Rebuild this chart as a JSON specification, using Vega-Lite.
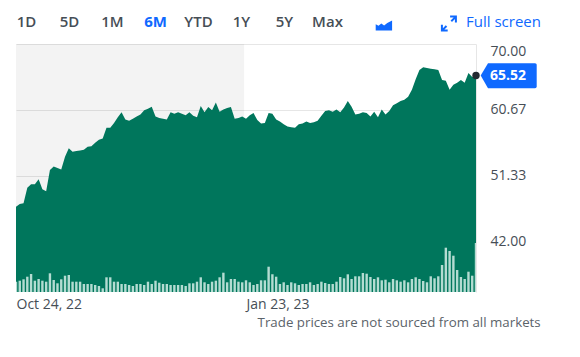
{
  "$schema": "https://vega.github.io/schema/vega-lite/v6.json",
  "padding": {"left": 16, "top": 0, "right": 0, "bottom": 0},
  "background": "white",
  "config": {"view": {"stroke": null}, "font": "Open Sans"},
  "spacing": 0,
  "bounds": "flush",
  "datasets": {
    "prices": [
      {"i":0,"close":46.9,"vol":1.03},{"i":1,"close":47.3,"vol":1.13},{"i":2,"close":47.4,"vol":1.27},{"i":3,"close":49.6,"vol":1.53},{"i":4,"close":50.1,"vol":1.8},{"i":5,"close":50.1,"vol":1.13},{"i":6,"close":50.8,"vol":1.3},{"i":7,"close":49.4,"vol":1.13},{"i":8,"close":49.1,"vol":1.03},{"i":9,"close":52.1,"vol":1.87},
      {"i":10,"close":52.6,"vol":1.2},{"i":11,"close":52.4,"vol":0.87},{"i":12,"close":52.2,"vol":1.27},{"i":13,"close":54.0,"vol":1.63},{"i":14,"close":55.2,"vol":1.7},{"i":15,"close":54.7,"vol":1.03},{"i":16,"close":54.8,"vol":1.03},{"i":17,"close":54.9,"vol":1.03},{"i":18,"close":55.0,"vol":0.8},{"i":19,"close":55.4,"vol":0.8},
      {"i":20,"close":55.5,"vol":0.8},{"i":21,"close":56.0,"vol":0.7},{"i":22,"close":56.4,"vol":0.6},{"i":23,"close":56.6,"vol":0.37},{"i":24,"close":58.1,"vol":1.47},{"i":25,"close":58.1,"vol":1.47},{"i":26,"close":58.8,"vol":1.03},{"i":27,"close":59.6,"vol":1.03},{"i":28,"close":60.3,"vol":0.8},{"i":29,"close":59.3,"vol":0.8},
      {"i":30,"close":59.1,"vol":0.7},{"i":31,"close":59.4,"vol":0.6},{"i":32,"close":59.7,"vol":0.8},{"i":33,"close":60.0,"vol":0.8},{"i":34,"close":60.6,"vol":0.7},{"i":35,"close":60.8,"vol":1.03},{"i":36,"close":61.1,"vol":0.8},{"i":37,"close":59.7,"vol":1.13},{"i":38,"close":59.5,"vol":0.93},{"i":39,"close":59.4,"vol":0.8},
      {"i":40,"close":59.3,"vol":0.8},{"i":41,"close":60.3,"vol":0.7},{"i":42,"close":60.1,"vol":0.7},{"i":43,"close":60.3,"vol":0.7},{"i":44,"close":60.1,"vol":0.7},{"i":45,"close":59.9,"vol":0.6},{"i":46,"close":60.3,"vol":0.87},{"i":47,"close":59.8,"vol":0.87},{"i":48,"close":59.6,"vol":1.03},{"i":49,"close":61.2,"vol":1.47},
      {"i":50,"close":60.3,"vol":0.97},{"i":51,"close":61.05,"vol":0.8},{"i":52,"close":60.6,"vol":1.03},{"i":53,"close":61.7,"vol":1.13},{"i":54,"close":60.4,"vol":1.47},{"i":55,"close":60.7,"vol":1.93},{"i":56,"close":60.9,"vol":0.97},{"i":57,"close":61.05,"vol":1.3},{"i":58,"close":59.4,"vol":1.3},{"i":59,"close":59.5,"vol":1.03},
      {"i":60,"close":59.7,"vol":0.97},{"i":61,"close":59.4,"vol":1.17},{"i":62,"close":59.9,"vol":0.97},{"i":63,"close":60.2,"vol":0.7},{"i":64,"close":59.2,"vol":0.8},{"i":65,"close":58.7,"vol":1.17},{"i":66,"close":58.8,"vol":1.17},{"i":67,"close":60.2,"vol":2.53},{"i":68,"close":60.1,"vol":1.77},{"i":69,"close":59.3,"vol":1.53},
      {"i":70,"close":59.0,"vol":0.8},{"i":71,"close":58.6,"vol":0.97},{"i":72,"close":58.3,"vol":0.7},{"i":73,"close":58.2,"vol":0.97},{"i":74,"close":58.1,"vol":0.87},{"i":75,"close":58.6,"vol":0.7},{"i":76,"close":58.7,"vol":0.8},{"i":77,"close":59.0,"vol":0.8},{"i":78,"close":58.8,"vol":0.97},{"i":79,"close":58.9,"vol":0.7},
      {"i":80,"close":59.1,"vol":0.8},{"i":81,"close":59.8,"vol":1.03},{"i":82,"close":60.5,"vol":0.9},{"i":83,"close":60.6,"vol":0.8},{"i":84,"close":60.4,"vol":0.8},{"i":85,"close":60.7,"vol":1.03},{"i":86,"close":60.3,"vol":1.5},{"i":87,"close":61.0,"vol":1.37},{"i":88,"close":61.9,"vol":1.77},{"i":89,"close":61.1,"vol":1.3},
      {"i":90,"close":60.0,"vol":1.57},{"i":91,"close":60.1,"vol":1.57},{"i":92,"close":60.3,"vol":1.9},{"i":93,"close":60.2,"vol":1.83},{"i":94,"close":59.7,"vol":1.5},{"i":95,"close":60.4,"vol":1.3},{"i":96,"close":59.6,"vol":1.47},{"i":97,"close":60.7,"vol":1.17},{"i":98,"close":60.0,"vol":1.23},{"i":99,"close":60.5,"vol":0.97},
      {"i":100,"close":61.3,"vol":1.3},{"i":101,"close":61.6,"vol":1.17},{"i":102,"close":61.9,"vol":1.03},{"i":103,"close":62.1,"vol":1.17},{"i":104,"close":62.5,"vol":0.97},{"i":105,"close":63.5,"vol":1.3},{"i":106,"close":65.0,"vol":1.47},{"i":107,"close":66.3,"vol":1.3},{"i":108,"close":66.7,"vol":1.1},{"i":109,"close":66.6,"vol":0.97},
      {"i":110,"close":66.5,"vol":1.57},{"i":111,"close":66.4,"vol":1.37},{"i":112,"close":66.3,"vol":1.57},{"i":113,"close":64.9,"vol":2.7},{"i":114,"close":64.8,"vol":4.43},{"i":115,"close":63.5,"vol":4.1},{"i":116,"close":64.2,"vol":3.63},{"i":117,"close":64.5,"vol":2.2},{"i":118,"close":64.9,"vol":1.5},{"i":119,"close":64.5,"vol":1.3},
      {"i":120,"close":65.9,"vol":2.03},{"i":121,"close":65.3,"vol":1.63},{"i":122,"close":65.52,"vol":4.9}
    ]
  },
  "vconcat": [
    {
      "width": 500,
      "height": 44,
      "data": {"values": [
        {"label":"1D"},{"label":"5D"},{"label":"1M"},{"label":"6M","active":true},{"label":"YTD"},{"label":"1Y"},{"label":"5Y"},{"label":"Max"}
      ]},
      "layer": [
        {
          "transform": [{"filter": "!datum.active"}],
          "mark": {"type": "text", "fontSize": 15, "fontWeight": 600, "dy": 0, "color": "#464e56"},
          "encoding": {
            "x": {"field": "label", "type": "nominal", "axis": null,
                  "scale": {"type": "point", "domain": ["1D","5D","1M","6M","YTD","1Y","5Y","Max","chart","gap","expand","Full screen"], "range": [10.5, 483.5], "padding": 0}},
            "text": {"field": "label"}
          }
        },
        {
          "transform": [{"filter": "datum.active"}],
          "mark": {"type": "text", "fontSize": 15, "fontWeight": "bold", "dy": 0, "color": "#0f69ff"},
          "encoding": {
            "x": {"field": "label", "type": "nominal"},
            "text": {"field": "label"}
          }
        },
        {
          "data": {"values": [{"slot": "chart"}]},
          "mark": {"type": "point", "filled": true, "color": "#0f69ff", "opacity": 1, "size": 64,
                   "shape": "M1.3,2.1 L1.3,0.55 L2.0,0.95 L2.7,0.35 L3.4,0.85 L4.2,0.25 L5.4,-0.4 L5.4,2.1 Z"},
          "encoding": {"x": {"field": "slot", "type": "nominal"}}
        },
        {
          "data": {"values": [{"slot": "expand"}]},
          "mark": {"type": "point", "filled": false, "stroke": "#0f69ff", "strokeWidth": 2, "opacity": 1, "size": 64,
                   "shape": "M-3.65,2.15 L-2.5,1.0 M-1.3,-0.2 L-0.15,-1.35 M-1.6,-1.35 L-0.15,-1.35 L-0.15,0.1 M-3.65,0.7 L-3.65,2.15 L-2.2,2.15"},
          "encoding": {"x": {"field": "slot", "type": "nominal"}}
        },
        {
          "data": {"values": [{"slot": "Full screen"}]},
          "mark": {"type": "text", "fontSize": 15, "color": "#0f69ff", "dx": 4, "dy": 0},
          "encoding": {"x": {"field": "slot", "type": "nominal"}, "text": {"field": "slot"}}
        }
      ]
    },
    {
      "width": 460,
      "height": 248,
      "title": {"text": "Trade prices are not sourced from all markets", "orient": "bottom", "anchor": "end", "frame": "bounds",
                "fontSize": 13.3, "fontWeight": "normal", "color": "#5b636a", "font": "Open Sans", "offset": 5, "dx": 4},
      "resolve": {"scale": {"y": "independent"}},
      "layer": [
        {
          "layer": [
            {
              "data": {"values": [{"start": 0, "end": 60.5}]},
              "mark": {"type": "rect", "color": "#000000", "opacity": 0.047},
              "encoding": {
                "x": {"field": "start", "type": "quantitative"},
                "x2": {"field": "end"}
              }
            },
            {
              "data": {"name": "prices"},
              "mark": {"type": "area", "color": "#00765c", "opacity": 1, "clip": true},
              "encoding": {
                "x": {"field": "i", "type": "quantitative",
                      "scale": {"domain": [0, 122], "nice": false, "zero": false, "padding": 0},
                      "axis": {"values": [0, 61], "labelExpr": "datum.value == 0 ? 'Oct 24, 22' : 'Jan 23, 23'",
                               "labelAlign": "left", "labelFlush": false, "grid": false, "ticks": false, "domain": false,
                               "labelFontSize": 14, "labelColor": "#464e56", "labelPadding": 5, "title": null}},
                "y": {"field": "close", "type": "quantitative",
                      "scale": {"domain": [34.8, 70], "nice": false, "zero": false},
                      "axis": {"orient": "right", "values": [42, 51.33, 60.67, 70], "format": ".2f",
                               "grid": true, "gridColor": "#e6e6e6", "ticks": false, "domain": true, "domainColor": "#e6e6e6",
                               "labelPadding": 14, "labelFontSize": 14, "labelColor": "#464e56", "labelFlush": true, "title": null}}
              }
            },
            {
              "data": {"name": "prices"},
              "transform": [{"filter": "datum.i == 122"}],
              "mark": {"type": "point", "filled": true, "color": "#232a31", "opacity": 1, "size": 55},
              "encoding": {
                "x": {"field": "i", "type": "quantitative"},
                "y": {"field": "close", "type": "quantitative"}
              }
            },
            {
              "data": {"name": "prices"},
              "transform": [{"filter": "datum.i == 122"}],
              "mark": {"type": "point", "filled": true, "color": "#0f69ff", "opacity": 1, "size": 400,
                       "shape": "M0.47,0 L1.2,-1.24 L5.9,-1.24 Q6.07,-1.24 6.07,-1.07 L6.07,1.09 Q6.07,1.26 5.9,1.26 L1.2,1.26 Z"},
              "encoding": {
                "x": {"field": "i", "type": "quantitative"},
                "y": {"field": "close", "type": "quantitative"}
              }
            },
            {
              "data": {"name": "prices"},
              "transform": [{"filter": "datum.i == 122"}],
              "mark": {"type": "text", "color": "white", "fontSize": 14, "fontWeight": "bold", "dx": 32, "align": "center", "baseline": "middle"},
              "encoding": {
                "x": {"field": "i", "type": "quantitative"},
                "y": {"field": "close", "type": "quantitative"},
                "text": {"field": "close", "type": "quantitative", "format": ".2f"}
              }
            }
          ]
        },
        {
          "data": {"name": "prices"},
          "mark": {"type": "bar", "color": "#b4dcd2", "width": 2.4, "clip": true},
          "encoding": {
            "x": {"field": "i", "type": "quantitative"},
            "y": {"field": "vol", "type": "quantitative", "scale": {"domain": [0, 24.8]}, "axis": null}
          }
        }
      ]
    }
  ]
}
